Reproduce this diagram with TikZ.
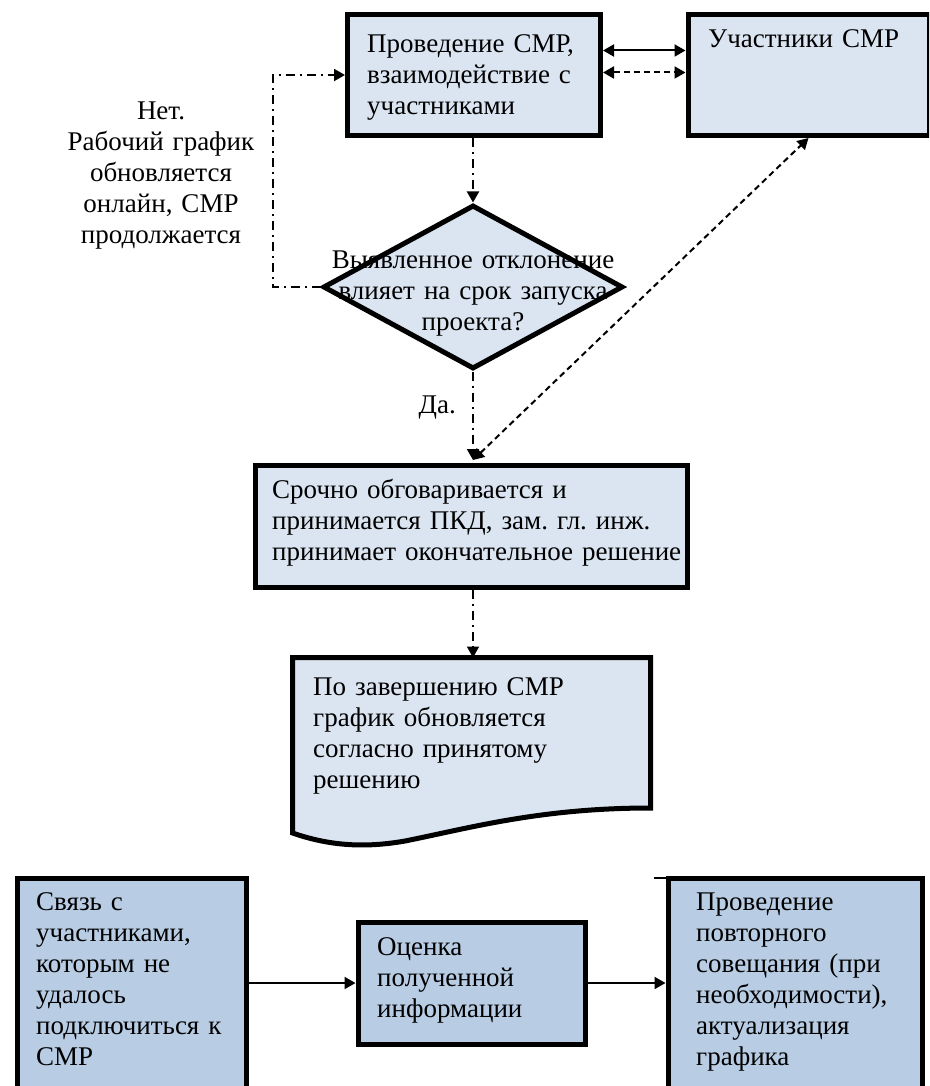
\documentclass[tikz,border=0pt]{standalone}
\usepackage{fontspec}
\setmainfont{Liberation Serif}
\usetikzlibrary{arrows.meta,shapes.geometric,calc}
\definecolor{lightfill}{HTML}{DBE5F1}
\definecolor{darkfill}{HTML}{B8CCE4}
\newcommand{\reffont}{\fontsize{27}{31}\selectfont\frenchspacing}
\tikzset{
  boxshape/.style={draw=black, line width=5pt, fill=lightfill, inner sep=0pt, anchor=north west},
  darkbox/.style={boxshape, fill=darkfill},
  txt/.style={font=\reffont, inner sep=0pt, align=left, text width=#1, anchor=base west},
  txt/.default=450pt,
  conn/.style={line width=2pt, -{Triangle[length=11pt,width=12pt]}},
  bothconn/.style={line width=2pt, {Triangle[length=11pt,width=12pt]}-{Triangle[length=11pt,width=12pt]}},
  dashdot/.style={dash pattern=on 9pt off 5pt on 2pt off 5pt},
  dashline/.style={dash pattern=on 6pt off 4pt},
}
\begin{document}
\begin{tikzpicture}[x=1pt,y=-1pt]
\useasboundingbox (0,0) rectangle (929,1086);
\clip (0,0) rectangle (929,1086);
% top boxes
\node[boxshape, minimum width=253pt, minimum height=121pt] (b1) at (345,12) {};
\node[txt] (t1) at (367,53) {Проведение СМР,\\взаимодействие с\\участниками};
\node[boxshape, minimum width=241pt, minimum height=121pt] (b2) at (685.5,12) {};
\node[txt] (t2) at (708,48) {Участники СМР};
% diamond
\node[draw=black, line width=5pt, fill=lightfill, diamond, inner sep=0pt, minimum width=300pt, minimum height=164pt] (d) at (473,287) {};
\node[font=\reffont, inner sep=0pt, align=center, text width=400pt, anchor=base] (td) at (473,268) {Выявленное отклонение\\влияет на срок запуска\\проекта?};
% left label
\node[font=\reffont, inner sep=0pt, align=center, text width=240pt, anchor=base] (tno) at (161,120) {Нет.\\Рабочий график\\обновляется\\онлайн, СМР\\продолжается};
% box 3
\node[boxshape, minimum width=432.5pt, minimum height=122.5pt] (b3) at (252.5,462.5) {};
\node[txt] (t3) at (272,498) {Срочно обговаривается и\\принимается ПКД, зам. гл. инж.\\принимает окончательное решение};
% document
\draw[line width=5pt, fill=lightfill, line join=miter]
  (292.5,657.5) -- (650.5,657.5) -- (650.5,808)
  .. controls (540,808) and (470,828) .. (405,841)
  .. controls (365,848) and (330,846) .. (292.5,833) -- cycle;
\coordinate (doctop) at (473,657.5);
\node[txt] (tdoc) at (313,695) {По завершению СМР\\график обновляется\\согласно принятому\\решению};
% bottom boxes
\node[darkbox, minimum width=229pt, minimum height=260pt] (bl) at (14.5,875.5) {};
\node[txt] (tbl) at (36,910) {Связь с\\участниками,\\которым не\\удалось\\подключиться к\\СМР};
\node[darkbox, minimum width=227pt, minimum height=122pt] (bm) at (355.5,919.5) {};
\node[txt] (tbm) at (377,955) {Оценка\\полученной\\информации};
\node[darkbox, minimum width=254.5pt, minimum height=260pt] (br) at (665.5,875.5) {};
\node[txt] (tbr) at (696,910) {Проведение\\повторного\\совещания (при\\необходимости),\\актуализация\\графика};
\coordinate (s1) at (654,878);
\coordinate (s2) at (722,878);
\draw[line width=2pt] (s1) -- (s2);
% connectors
\draw[bothconn] ([yshift=24.5pt]b1.east) -- ([yshift=24.5pt]b2.west);
\draw[bothconn, dashline] ([yshift=2.5pt]b1.east) -- ([yshift=2.5pt]b2.west);
\draw[conn, dashdot] (b1.south -| d.north) -- (d.north);
\draw[conn, dashdot] (d.west) -- ++(-48,0) |- (b1.west);
\coordinate (b3in) at (473,460);
\draw[conn, dashdot] (d.south) -- (b3in);
\node[font=\reffont, inner sep=0pt, anchor=base east] (yes) at (456,413) {Да.};
\draw[bothconn, dashline] (b3in) -- (b2.south);
\draw[conn, dashdot] (b3.south -| doctop) -- (doctop);
\draw[conn] (bl.east |- bm.west) -- (bm.west);
\draw[conn] (bm.east) -- (br.west |- bm.east);
\end{tikzpicture}
\end{document}
